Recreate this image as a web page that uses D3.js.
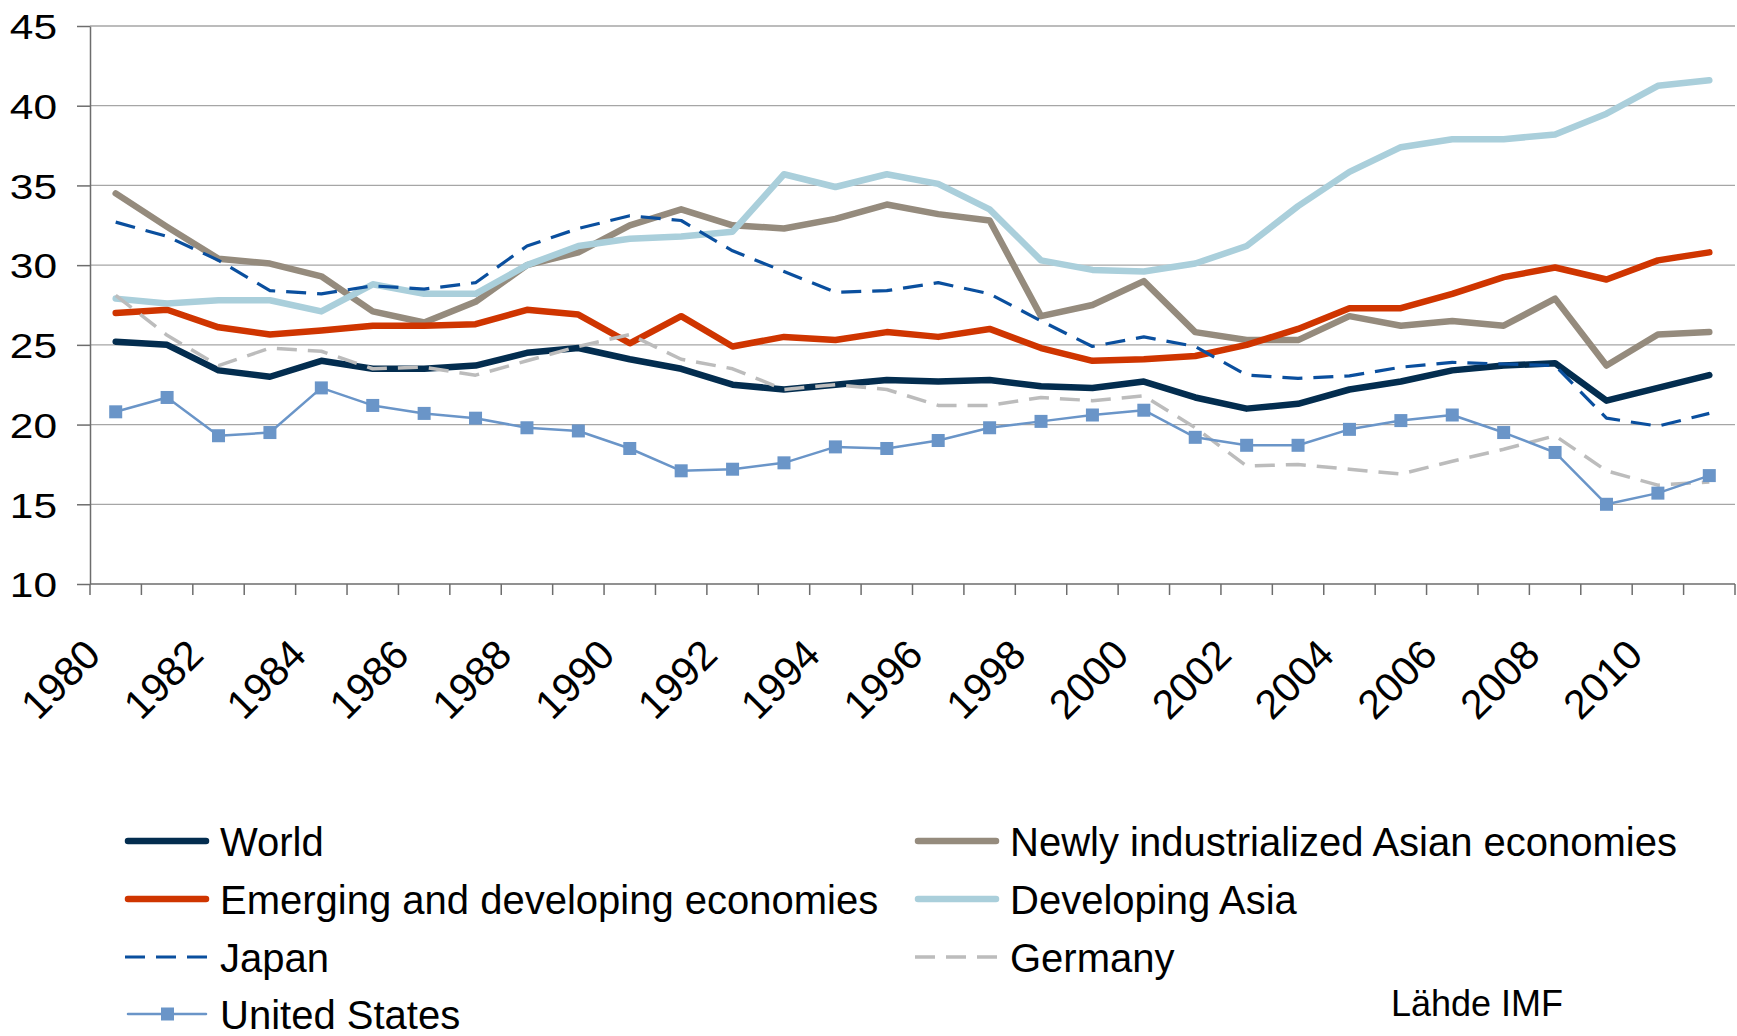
<!DOCTYPE html>
<html lang="fi">
<head>
<meta charset="UTF-8">
<title>Säästämisaste</title>
<script src="https://d3js.org/d3.v7.min.js"></script>
<style>
  body { margin: 0; background: #fff; }
  svg { display: block; font-family: "Liberation Sans", Arial, sans-serif; }
  .grid line { stroke: #a6a6a6; stroke-width: 1.3; }
  .axis path, .axis line { stroke: #6d6d6d; stroke-width: 1.5; }
</style>
</head>
<body>
<div id="chart"></div>
<script>
// -- Données --
const years = [1980,1981,1982,1983,1984,1985,1986,1987,1988,1989,1990,1991,1992,1993,1994,1995,
               1996,1997,1998,1999,2000,2001,2002,2003,2004,2005,2006,2007,2008,2009,2010,2011];
const yTicks = [10, 15, 20, 25, 30, 35, 40, 45];

const world    = [25.2,25.0,23.4,23.0,24.0,23.5,23.5,23.7,24.5,24.8,24.1,23.5,22.5,22.2,22.5,22.8,
                  22.7,22.8,22.4,22.3,22.7,21.7,21.0,21.3,22.2,22.7,23.4,23.7,23.85,21.5,22.3,23.1];
const newly    = [34.5,32.4,30.4,30.1,29.3,27.1,26.4,27.7,30.0,30.8,32.5,33.5,32.5,32.3,32.9,33.8,
                  33.2,32.8,26.8,27.5,29.0,25.8,25.3,25.3,26.8,26.2,26.5,26.2,27.9,23.7,25.65,25.8];
const emerging = [27.0,27.2,26.1,25.65,25.9,26.2,26.2,26.3,27.2,26.9,25.1,26.8,24.9,25.5,25.3,25.8,
                  25.5,26.0,24.8,24.0,24.1,24.3,25.0,26.0,27.3,27.3,28.2,29.25,29.85,29.1,30.3,30.8];
const devAsia  = [27.9,27.6,27.8,27.8,27.1,28.8,28.2,28.2,30.0,31.2,31.65,31.8,32.1,35.7,34.9,35.7,
                  35.1,33.5,30.3,29.7,29.6,30.1,31.2,33.7,35.85,37.4,37.9,37.9,38.2,39.5,41.25,41.6];
const japan    = [32.7,31.8,30.3,28.4,28.2,28.7,28.5,28.9,31.2,32.3,33.1,32.8,30.9,29.6,28.3,28.4,
                  28.9,28.2,26.5,24.9,25.5,24.9,23.1,22.9,23.05,23.6,23.9,23.8,23.7,20.4,19.9,20.7];
const germany  = [28.1,25.6,23.7,24.8,24.6,23.5,23.6,23.1,24.0,24.9,25.65,24.1,23.5,22.2,22.5,22.2,
                  21.2,21.2,21.7,21.5,21.8,19.8,17.4,17.5,17.2,16.9,17.7,18.45,19.3,17.1,16.2,16.4];
const us       = [20.8,21.7,19.3,19.5,22.3,21.2,20.7,20.4,19.8,19.6,18.5,17.1,17.2,17.6,18.6,18.5,
                  19.0,19.8,20.2,20.6,20.9,19.2,18.7,18.7,19.7,20.25,20.6,19.5,18.25,15.0,15.7,16.8];

// ordre de dessin = ordre des séries (Excel)
const series = [
  { name: "World", values: world, color: "#032d4f", width: 6.5 },
  { name: "Newly industrialized Asian economies", values: newly, color: "#958b7d", width: 6.5 },
  { name: "Emerging and developing economies", values: emerging, color: "#cf3500", width: 6.5 },
  { name: "Developing Asia", values: devAsia, color: "#aacfdb", width: 6.5 },
  { name: "Japan", values: japan, color: "#0a4f9e", width: 3.2, dash: "20,11" },
  { name: "Germany", values: germany, color: "#bcbcbc", width: 3.5, dash: "20,11" },
  { name: "United States", values: us, color: "#6a95c8", width: 2.5, marker: true }
];

// -- Dimensions --
const width = 1737, height = 1036;
const margin = { left: 90, right: 2, top: 26, bottom: 452 };
const innerW = width - margin.left - margin.right;
const innerH = height - margin.top - margin.bottom;

const svg = d3.select("#chart").append("svg")
    .attr("width", width)
    .attr("height", height);

const g = svg.append("g").attr("transform", `translate(${margin.left},${margin.top})`);

const x = d3.scaleBand().domain(years).range([0, innerW]);
const y = d3.scaleLinear().domain([10, 45]).range([innerH, 0]);
const cx = d => x(d) + x.bandwidth() / 2;

// -- Grille --
g.append("g").attr("class", "grid")
  .selectAll("line")
  .data(yTicks.slice(1))
  .join("line")
    .attr("x1", 0).attr("x2", innerW)
    .attr("y1", d => y(d)).attr("y2", d => y(d));

// -- Axe Y --
const yAxis = g.append("g").attr("class", "axis")
  .call(d3.axisLeft(y).tickValues(yTicks).tickSize(13).tickSizeOuter(0).tickPadding(0));
yAxis.selectAll("text")
  .attr("x", 0).attr("dy", null)
  .attr("dominant-baseline", "central")
  .attr("transform", "translate(-33,0) scale(1.18,1)")
  .style("font-size", "36px")
  .style("fill", "#000");

// -- Axe X : graduations entre les catégories --
const xAxis = g.append("g").attr("class", "axis")
  .attr("transform", `translate(0,${innerH})`);
xAxis.append("line").attr("x1", 0).attr("x2", innerW);
xAxis.selectAll(".tick")
  .data(years.concat([null]))
  .join("line")
    .attr("class", "tick")
    .attr("x1", (d, i) => i * x.step()).attr("x2", (d, i) => i * x.step())
    .attr("y1", 0).attr("y2", 11);
xAxis.selectAll(".lbl")
  .data(years.filter(d => d % 2 === 0))
  .join("text")
    .attr("class", "lbl")
    .attr("text-anchor", "end")
    .attr("transform", d => `translate(${cx(d) - 13},73) rotate(-45)`)
    .style("font-size", "41px")
    .text(d => d);

// -- Courbes --
const line = d3.line().x((d, i) => cx(years[i])).y(d => y(d));

series.forEach(s => {
  g.append("path")
    .datum(s.values)
    .attr("fill", "none")
    .attr("stroke", s.color)
    .attr("stroke-width", s.width)
    .attr("stroke-linejoin", "round")
    .attr("stroke-linecap", s.dash ? "butt" : "round")
    .attr("stroke-dasharray", s.dash || null)
    .attr("d", line);
  if (s.marker) {
    g.append("g").selectAll("rect")
      .data(s.values)
      .join("rect")
        .attr("x", (d, i) => cx(years[i]) - 6.5)
        .attr("y", d => y(d) - 6.5)
        .attr("width", 13).attr("height", 13)
        .attr("fill", s.color);
  }
});

// -- Légende --
const legendPos = {
  "World": [125, 841], "Emerging and developing economies": [125, 899], "Japan": [125, 957],
  "United States": [125, 1014],
  "Newly industrialized Asian economies": [915, 841], "Developing Asia": [915, 899], "Germany": [915, 957]
};
series.forEach(s => {
  const [lx, ly] = legendPos[s.name];
  const lg = svg.append("g").attr("transform", `translate(${lx},${ly})`);
  lg.append("line")
    .attr("x1", s.dash ? 0 : 3).attr("x2", s.dash ? 84 : 81)
    .attr("stroke", s.color)
    .attr("stroke-width", s.width)
    .attr("stroke-linecap", s.dash ? "butt" : "round")
    .attr("stroke-dasharray", s.dash || null);
  if (s.marker) {
    lg.append("rect").attr("x", 36).attr("y", -6.5).attr("width", 13).attr("height", 13)
      .attr("fill", s.color);
  }
  lg.append("text")
    .attr("x", 95).attr("y", 15)
    .style("font-size", "40px")
    .text(s.name);
});

svg.append("text")
  .attr("x", 1391).attr("y", 1016)
  .style("font-size", "36px")
  .text("Lähde IMF");
</script>
</body>
</html>
